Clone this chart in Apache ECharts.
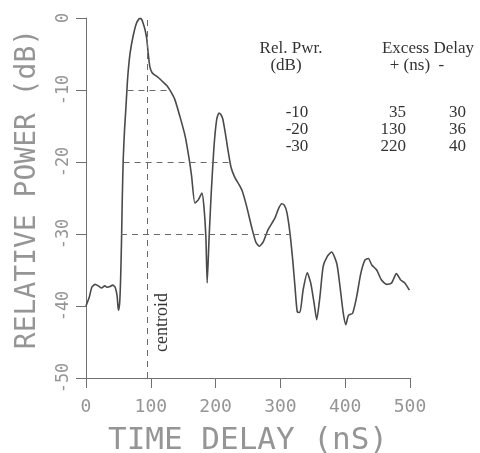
<!DOCTYPE html>
<html><head><meta charset="utf-8">
<script src="https://cdn.jsdelivr.net/npm/echarts@6/dist/echarts.min.js"></script>
<style>html,body{margin:0;padding:0;background:#fff}#c{width:480px;height:453px}</style>
</head><body><div id="c"></div>
<script>
// ---- data ----
const delayNs = [0,5,9,14,19,24,29,33,37,41,45,48,50,52,53.5,54.8,56,57.5,59.5,61.5,64.4,68,73,78,83,86,88.4,91,93.6,96,98.6,102,106,112,119,125,130,137,145,153,159.4,163,168,173,179,182,185,187,190,193.5,197.5,201.5,205,208,211,215,219,224,230,236,241,248,255.5,262,267.4,273.5,281,291.5,297,302,306,310,314.8,319,322.5,326,330,335,341.5,346.8,352,356,361,366,372.4,379,387,392,397,401,405,411.5,417.7,424,430.6,435.7,441,448.6,456,464,471.6,479,485.6,492,499];
const relPowerDb = [-40,-38.8,-37.4,-37.0,-37.2,-37.5,-37.2,-37.4,-37.3,-37.1,-37.4,-38.6,-40.6,-39.5,-36,-31,-25,-19.5,-15.5,-12.6,-8.2,-4.9,-2.4,-0.7,-0.05,-0.2,-0.8,-1.6,-2.8,-4.9,-6.8,-7.6,-7.9,-8.3,-8.9,-9.4,-10.1,-11.3,-13.7,-16.4,-19.7,-22,-25.7,-25.3,-24.3,-26.2,-30.4,-36.8,-30.4,-23.9,-17.9,-14.2,-13.2,-13.4,-14.0,-16,-18.3,-20.8,-22.2,-23.1,-24,-26.2,-29,-31.1,-31.7,-31.1,-29.4,-27.8,-26.5,-25.8,-26,-27,-29.9,-33.6,-37.3,-40.8,-40.9,-37.8,-35.4,-36.8,-39.6,-41.9,-38.7,-34.5,-33.1,-32.5,-34.1,-37.3,-41,-42.6,-41.3,-41,-38.7,-35.5,-33.6,-33.4,-34.3,-35,-36.4,-37,-36.8,-35.5,-36.4,-36.8,-37.8];
const xTicks = [0,100,200,300,400,500];
const yTicks = [-50,-40,-30,-20,-10,0];
const centroidNs = 95;
const levelDb = [-10,-20,-30];
const levelStartNs = [64,58,54];
const levelEndNs = [128,225,314];
const tableRelPwr = ['-10','-20','-30'];
const tablePlusNs = ['35','130','220'];
const tableMinusNs = ['30','36','40'];

// ---- chart ----
const chart = echarts.init(document.getElementById('c'), null, {renderer:'canvas'});
const axisGray = '#707070';
const textGray = '#959595';
const plotFont = '"DejaVu Sans Mono", monospace';
const serif = '"Liberation Serif", serif';

const markData = [
  [{coord:[centroidNs, yTicks[0]], label:{show:true}}, {coord:[centroidNs, yTicks[yTicks.length-1]]}]
];
levelDb.forEach((d,i)=>{
  markData.push([{coord:[levelStartNs[i], d], label:{show:false}}, {coord:[levelEndNs[i], d]}]);
});

const rowY = [113, 130, 147];
const graphics = [
  {type:'text', x:291, y:49, style:{text:'Rel. Pwr.', font:'17px '+serif, fill:'#333', align:'center', verticalAlign:'middle'}},
  {type:'text', x:286, y:66, style:{text:'(dB)', font:'17px '+serif, fill:'#333', align:'center', verticalAlign:'middle'}},
  {type:'text', x:428, y:49, style:{text:'Excess Delay', font:'17px '+serif, fill:'#333', align:'center', verticalAlign:'middle'}},
  {type:'text', x:417, y:66, style:{text:'+ (ns)  -', font:'17px '+serif, fill:'#333', align:'center', verticalAlign:'middle'}}
];
tableRelPwr.forEach((t,i)=>{
  graphics.push({type:'text', x:297, y:rowY[i], style:{text:t, font:'17px '+serif, fill:'#333', align:'center', verticalAlign:'middle'}});
  graphics.push({type:'text', x:406, y:rowY[i], style:{text:tablePlusNs[i], font:'17px '+serif, fill:'#333', align:'right', verticalAlign:'middle'}});
  graphics.push({type:'text', x:466, y:rowY[i], style:{text:tableMinusNs[i], font:'17px '+serif, fill:'#333', align:'right', verticalAlign:'middle'}});
});

chart.setOption({
  animation:false,
  backgroundColor:'#fff',
  grid:{left:86, top:18, width:324, height:360, containLabel:false, outerBoundsMode:'none'},
  xAxis:{
    type:'value', min:0, max:500, interval:100,
    name:'TIME DELAY (nS)', nameLocation:'middle', nameGap:47,
    nameTextStyle:{fontFamily:plotFont, fontSize:31, color:textGray},
    axisLine:{show:true, onZero:false, lineStyle:{color:axisGray, width:1}},
    axisTick:{show:true, length:10, lineStyle:{color:axisGray}},
    axisLabel:{fontFamily:plotFont, fontSize:18, color:textGray, margin:20},
    splitLine:{show:false}
  },
  yAxis:{
    type:'value', min:-50, max:0, interval:10,
    name:'RELATIVE POWER (dB)', nameLocation:'middle', nameGap:44, nameRotate:90,
    nameTextStyle:{fontFamily:plotFont, fontSize:28, color:textGray, padding:[0,0,0,18]},
    axisLine:{show:true, onZero:false, lineStyle:{color:axisGray, width:1}},
    axisTick:{show:true, length:10, lineStyle:{color:axisGray}},
    axisLabel:{fontFamily:plotFont, fontSize:17, color:textGray, rotate:90, margin:14},
    splitLine:{show:false}
  },
  graphic: graphics,
  series:[{
    type:'line',
    data: delayNs.map((x,i)=>[x, relPowerDb[i]]),
    showSymbol:false, smooth:0.2,
    lineStyle:{color:'#4a4a4a', width:1.6},
    markLine:{
      silent:true, symbol:['none','none'],
      lineStyle:{type:[6,5], color:'#6a6a6a', width:1},
      label:{show:true, formatter:'centroid', position:'insideStartBottom', distance:[26,6],
        fontFamily:serif, fontSize:18, color:'#333'},
      data: markData
    }
  }]
});
</script></body></html>
